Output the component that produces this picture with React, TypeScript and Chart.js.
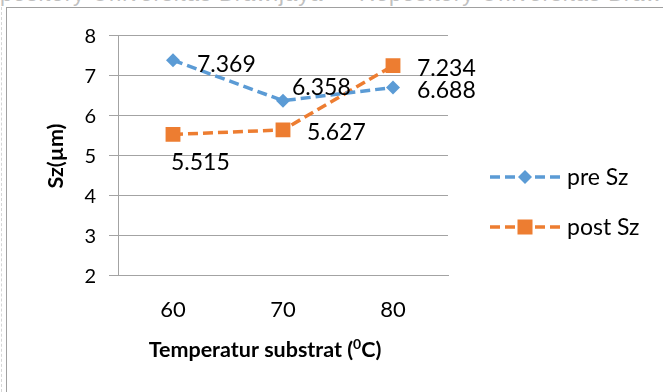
import { useEffect, useRef } from 'react';
import { Chart, registerables } from 'chart.js';

Chart.register(...registerables);

// Substrate temperatures (°C) on the category axis
const temperatures = ['60', '70', '80'];
// Surface roughness Sz (µm) before and after treatment
const preSz = [7.369, 6.358, 6.688];
const postSz = [5.515, 5.627, 7.234];
const seriesNames = ['pre Sz', 'post Sz'];
// Value axis range and step
const yMin = 2;
const yMax = 8;
const yStep = 1;

const BLUE = '#5B9BD5';
const ORANGE = '#ED7D31';
const GRID = '#a3a3a3';
const FONT = 'Lato, "Open Sans", sans-serif';

// Where each value label sits relative to its marker (text left, baseline)
const labelOffsets: Record<string, [number, number][]> = {
  pre: [[24, 11.5], [9, -6], [24, 11]],
  post: [[-2, 35.5], [24, 10], [24, 10.5]],
};

function drawDiamond(ctx: CanvasRenderingContext2D, x: number, y: number, r: number, color: string) {
  ctx.beginPath();
  ctx.moveTo(x, y - r);
  ctx.lineTo(x + r, y);
  ctx.lineTo(x, y + r);
  ctx.lineTo(x - r, y);
  ctx.closePath();
  ctx.fillStyle = color;
  ctx.fill();
}

function drawSquare(ctx: CanvasRenderingContext2D, x: number, y: number, half: number, color: string) {
  ctx.fillStyle = color;
  ctx.fillRect(x - half, y - half, half * 2, half * 2);
}

const annotations = {
  id: 'annotations',
  afterDraw(chart: any) {
    const ctx: CanvasRenderingContext2D = chart.ctx;
    ctx.save();

    // value labels next to each marker
    ctx.fillStyle = '#000';
    ctx.font = `23px ${FONT}`;
    ctx.textAlign = 'left';
    ctx.textBaseline = 'alphabetic';
    const keys = ['pre', 'post'];
    chart.data.datasets.forEach((ds: any, di: number) => {
      const meta = chart.getDatasetMeta(di);
      meta.data.forEach((pt: any, i: number) => {
        const [dx, dy] = labelOffsets[keys[di]][i];
        ctx.fillText(ds.data[i].toFixed(3), pt.x + dx, pt.y + dy);
      });
    });

    // value axis title
    ctx.save();
    ctx.translate(63, 156);
    ctx.rotate(-Math.PI / 2);
    ctx.font = `bold 21.5px ${FONT}`;
    ctx.textAlign = 'center';
    ctx.textBaseline = 'alphabetic';
    ctx.fillText('Sz(µm)', 0, 0);
    ctx.restore();

    // category axis title with superscript degree zero
    const partA = 'Temperatur substrat (';
    const sup = '0';
    const partB = 'C)';
    ctx.font = `bold 21.5px ${FONT}`;
    const wA = ctx.measureText(partA).width;
    const wB = ctx.measureText(partB).width;
    ctx.font = `bold 14px ${FONT}`;
    const wS = ctx.measureText(sup).width;
    let tx = 265 - (wA + wS + wB) / 2;
    const ty = 357;
    ctx.textAlign = 'left';
    ctx.font = `bold 21.5px ${FONT}`;
    ctx.fillText(partA, tx, ty);
    tx += wA;
    ctx.font = `bold 14px ${FONT}`;
    ctx.fillText(sup, tx, ty - 8);
    tx += wS;
    ctx.font = `bold 21.5px ${FONT}`;
    ctx.fillText(partB, tx, ty);

    // legend
    const legendRows = [
      { name: seriesNames[0], color: BLUE, y: 177, marker: 'diamond' },
      { name: seriesNames[1], color: ORANGE, y: 227, marker: 'square' },
    ];
    legendRows.forEach((row) => {
      ctx.save();
      ctx.strokeStyle = row.color;
      ctx.lineWidth = 3.5;
      ctx.setLineDash([10, 5]);
      ctx.beginPath();
      ctx.moveTo(490, row.y);
      ctx.lineTo(560, row.y);
      ctx.stroke();
      ctx.restore();
      if (row.marker === 'diamond') drawDiamond(ctx, 525, row.y, 7, row.color);
      else drawSquare(ctx, 525, row.y, 7.5, row.color);
      ctx.fillStyle = '#000';
      ctx.font = `23px ${FONT}`;
      ctx.textAlign = 'left';
      ctx.textBaseline = 'alphabetic';
      ctx.fillText(row.name, 567, row.y + 8);
    });

    ctx.restore();
  },
};

export default function App() {
  const canvasRef = useRef<HTMLCanvasElement | null>(null);

  useEffect(() => {
    if (!canvasRef.current) return;
    const chart = new Chart(canvasRef.current, {
      type: 'line',
      data: {
        labels: temperatures,
        datasets: [
          {
            label: seriesNames[0],
            data: preSz,
            borderColor: BLUE,
            backgroundColor: BLUE,
            borderWidth: 3.5,
            borderDash: [10, 5],
            pointStyle: 'rectRot',
            pointRadius: 7,
            pointBorderWidth: 0,
            pointBackgroundColor: BLUE,
            tension: 0,
          },
          {
            label: seriesNames[1],
            data: postSz,
            borderColor: ORANGE,
            backgroundColor: ORANGE,
            borderWidth: 3.5,
            borderDash: [10, 5],
            pointStyle: 'rect',
            pointRadius: 10.5,
            pointBorderWidth: 0,
            pointBackgroundColor: ORANGE,
            tension: 0,
          },
        ],
      },
      options: {
        responsive: false,
        animation: false,
        devicePixelRatio: 1,
        layout: { padding: { top: 35, right: 215, left: 0, bottom: 0 } },
        plugins: {
          legend: { display: false },
          tooltip: { enabled: false },
        },
        scales: {
          x: {
            type: 'category',
            offset: true,
            grid: { display: false, drawTicks: false },
            border: { display: true, color: GRID, width: 1 },
            ticks: {
              color: '#000',
              font: { family: FONT, size: 22 },
              padding: 22,
            },
            afterFit(scale: any) {
              scale.height = 117;
            },
          },
          y: {
            min: yMin,
            max: yMax,
            grid: { color: GRID, lineWidth: 1, tickLength: 9, drawTicks: true },
            border: { display: true, color: GRID, width: 1 },
            ticks: {
              stepSize: yStep,
              color: '#000',
              font: { family: FONT, size: 20 },
              padding: 13,
              labelOffset: 2,
            },
            afterFit(scale: any) {
              scale.width = 118;
            },
          },
        },
      },
      plugins: [annotations],
    });
    return () => chart.destroy();
  }, []);

  return (
    <div
      style={{
        position: 'fixed',
        left: 0,
        top: 0,
        width: 663,
        height: 392,
        background: '#fff',
        overflow: 'hidden',
      }}
    >
      <div
        style={{
          position: 'absolute',
          left: 0,
          top: -19,
          width: 663,
          whiteSpace: 'nowrap',
          fontFamily: '"Liberation Sans", sans-serif',
          fontSize: 22,
          color: '#c0c0c0',
          letterSpacing: 1,
        }}
      >
        pository Universitas Brawijaya&nbsp;&nbsp;&nbsp;&nbsp;&nbsp;Repository Universitas Brawijaya
      </div>
      <div style={{ position: 'absolute', left: 1, top: 7, width: 0, height: 385, borderLeft: '1px dashed #d6d6d6' }} />
      <div
        style={{
          position: 'absolute',
          left: 6,
          top: 7,
          width: 670,
          height: 400,
          borderLeft: '1px solid #a0a0a0',
          borderTop: '1px solid #a0a0a0',
        }}
      />
      <canvas
        ref={canvasRef}
        width={663}
        height={392}
        style={{ position: 'absolute', left: 0, top: 0, width: 663, height: 392 }}
      />
    </div>
  );
}
